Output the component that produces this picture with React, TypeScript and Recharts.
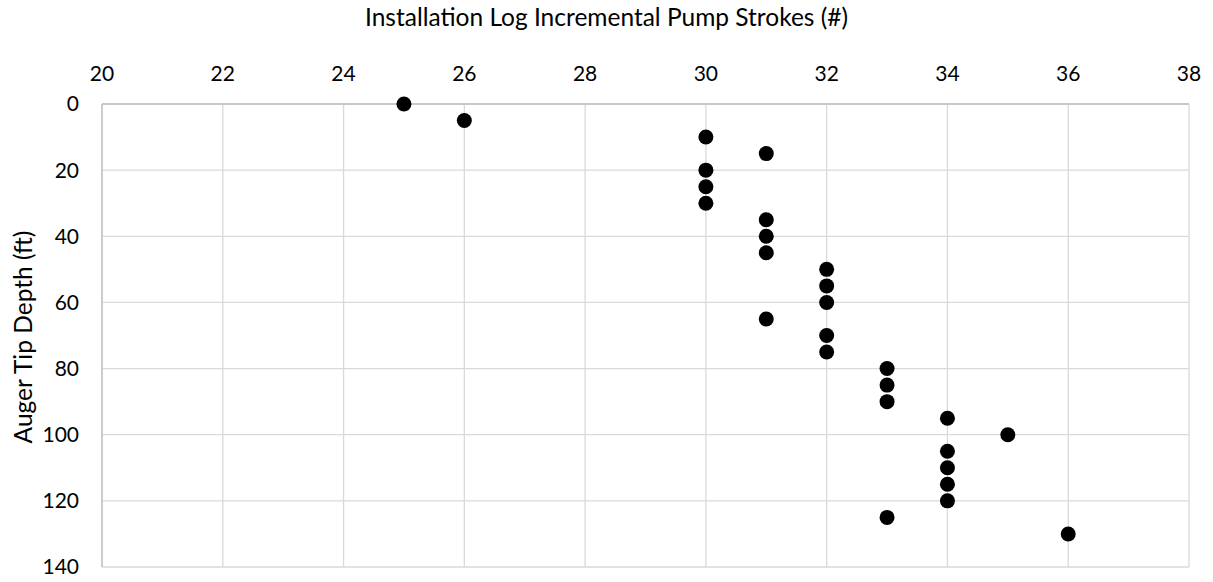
import React from 'react';
import { ScatterChart, Scatter, XAxis, YAxis, CartesianGrid } from 'recharts';

const depths = [0, 5, 10, 15, 20, 25, 30, 35, 40, 45, 50, 55, 60, 65, 70, 75, 80, 85, 90, 95, 100, 105, 110, 115, 120, 125, 130];
const strokes = [25, 26, 30, 31, 30, 30, 30, 31, 31, 31, 32, 32, 32, 31, 32, 32, 33, 33, 33, 34, 35, 34, 34, 34, 34, 33, 36];
const xTicks = [20, 22, 24, 26, 28, 30, 32, 34, 36, 38];
const yTicks = [0, 20, 40, 60, 80, 100, 120, 140];

const data = depths.map((d, i) => ({ depth: d, strokes: strokes[i] }));

const font = "Lato, 'Open Sans', sans-serif";
const tickStyle = { fill: '#000', fontSize: 21, fontFamily: font };

const Dot = (props: any) => <circle cx={props.cx} cy={props.cy} r={7.5} fill="#000" />;

const App: React.FC = () => {
  return (
    <div style={{ position: 'absolute', left: 0, top: 0, width: 1213, height: 582, background: '#fff', fontFamily: font }}>
      <div style={{ position: 'absolute', top: 1, left: 0, width: 1213, textAlign: 'center', fontSize: 24.5, lineHeight: '31px', color: '#000' }}>
        Installation Log Incremental Pump Strokes (#)
      </div>
      <div
        style={{
          position: 'absolute', left: 22, top: 337, fontSize: 24.5, lineHeight: '31px', color: '#000', whiteSpace: 'nowrap',
          transform: 'translate(-50%, -50%) rotate(-90deg)'
        }}
      >
        Auger Tip Depth (ft)
      </div>
      <ScatterChart width={1213} height={582} margin={{ top: 0, right: 24, bottom: 15, left: 0 }}>
        <CartesianGrid stroke="#d9d9d9" strokeWidth={1.3} />
        <XAxis
          type="number"
          dataKey="strokes"
          orientation="top"
          domain={[20, 38]}
          ticks={xTicks}
          height={104}
          axisLine={{ stroke: '#bfbfbf', strokeWidth: 1.3 }}
          tickLine={false}
          tickSize={0}
          tickMargin={23}
          tick={tickStyle}
          interval={0}
        />
        <YAxis
          type="number"
          dataKey="depth"
          reversed
          domain={[0, 140]}
          ticks={yTicks}
          width={102}
          axisLine={{ stroke: '#bfbfbf', strokeWidth: 1.3 }}
          tickLine={false}
          tickSize={0}
          tickMargin={23}
          tick={tickStyle}
          interval={0}
        />
        <Scatter data={data} shape={Dot} isAnimationActive={false} />
      </ScatterChart>
    </div>
  );
};

export default App;
